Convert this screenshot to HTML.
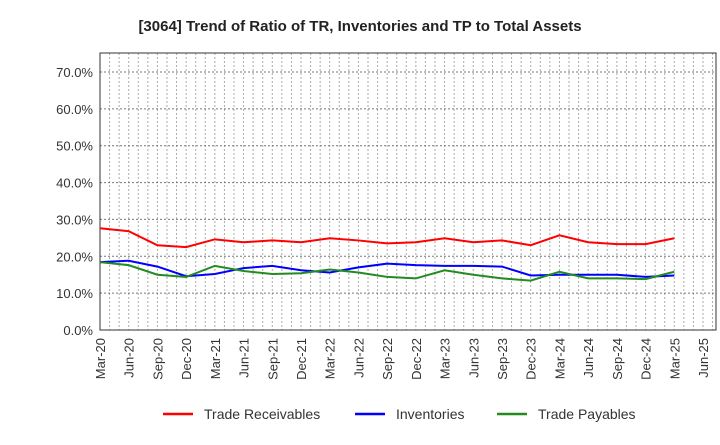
<!DOCTYPE html>
<html><head><meta charset="utf-8"><style>
body{margin:0;background:#fff;font-family:"Liberation Sans",sans-serif}
</style></head><body>
<svg id="c" width="720" height="440" xmlns="http://www.w3.org/2000/svg" font-family="Liberation Sans, sans-serif">
<text x="360" y="31" text-anchor="middle" font-size="15" font-weight="bold" fill="#222">[3064]  Trend of Ratio of TR, Inventories and TP to Total Assets</text>
<g id="grid"></g><g id="axes"></g><g id="series"></g>
<g font-size="14" fill="#333">
<line x1="163" y1="414" x2="193" y2="414" stroke="#f00" stroke-width="2.5"/><text x="204" y="419">Trade Receivables</text>
<line x1="355" y1="414" x2="385" y2="414" stroke="#00f" stroke-width="2.5"/><text x="396" y="419">Inventories</text>
<line x1="497" y1="414" x2="527" y2="414" stroke="#228b22" stroke-width="2.5"/><text x="538" y="419">Trade Payables</text>
</g>
</svg>
<script>
const categories=["Mar-20","Jun-20","Sep-20","Dec-20","Mar-21","Jun-21","Sep-21","Dec-21","Mar-22","Jun-22","Sep-22","Dec-22","Mar-23","Jun-23","Sep-23","Dec-23","Mar-24","Jun-24","Sep-24","Dec-24","Mar-25","Jun-25"];
const tradeReceivables=[27.6,26.8,23.0,22.5,24.6,23.8,24.3,23.8,24.9,24.3,23.5,23.8,24.9,23.8,24.3,23.0,25.7,23.8,23.3,23.3,24.9];
const inventories=[18.4,18.8,17.2,14.6,15.2,16.8,17.4,16.2,15.6,17.0,18.0,17.6,17.4,17.4,17.2,14.8,15.0,15.0,15.0,14.4,14.8];
const tradePayables=[18.4,17.6,15.0,14.4,17.4,16.0,15.2,15.4,16.4,15.6,14.4,14.0,16.2,15.0,14.0,13.4,15.8,14.0,14.0,13.8,15.8];
const yTicks=[0,10,20,30,40,50,60,70];
const NS="http://www.w3.org/2000/svg";
const L=100,R=716,T=53,B=330,X0=100,X1=703;
const x=i=>X0+i*(X1-X0)/21;
const y=v=>B-v*(B-72)/70;
function mk(t,a,p){const e=document.createElementNS(NS,t);for(const k in a)e.setAttribute(k,a[k]);p.appendChild(e);return e;}
const grid=document.getElementById('grid'),axes=document.getElementById('axes'),ser=document.getElementById('series');
for(let m=1;m<66;m++){const gx=X0+m*(X1-X0)/63;if(gx>=R)break;const l=mk('line',{x1:gx,y1:T,x2:gx,y2:B,stroke:'#aaa','stroke-dasharray':'2,2','stroke-width':1},grid);
}
yTicks.forEach(v=>{if(v>0){const l=mk('line',{x1:L,y1:y(v),x2:R,y2:y(v),stroke:'#777','stroke-dasharray':'2,2'},grid);
}
const t=mk('text',{x:L-7,y:y(v)+5,'text-anchor':'end','font-size':13,fill:'#333'},axes);t.textContent=v.toFixed(1)+'%';
});
const fr=mk('rect',{x:L,y:T,width:R-L,height:B-T,fill:'none',stroke:'#333','stroke-width':1},axes);

categories.forEach((c,i)=>{const t=mk('text',{transform:`translate(${x(i)+5},${B+8}) rotate(-90)`,'text-anchor':'end','font-size':13,fill:'#333'},axes);t.textContent=c;
});
[[tradeReceivables,'#f00','trade-receivables-line'],[inventories,'#00f','inventories-line'],[tradePayables,'#228b22','trade-payables-line']].forEach(([d,col,n])=>{
const p=mk('polyline',{points:d.map((v,i)=>x(i)+','+y(v)).join(' '),fill:'none',stroke:col,'stroke-width':2},ser);
});
</script>
</body></html>
